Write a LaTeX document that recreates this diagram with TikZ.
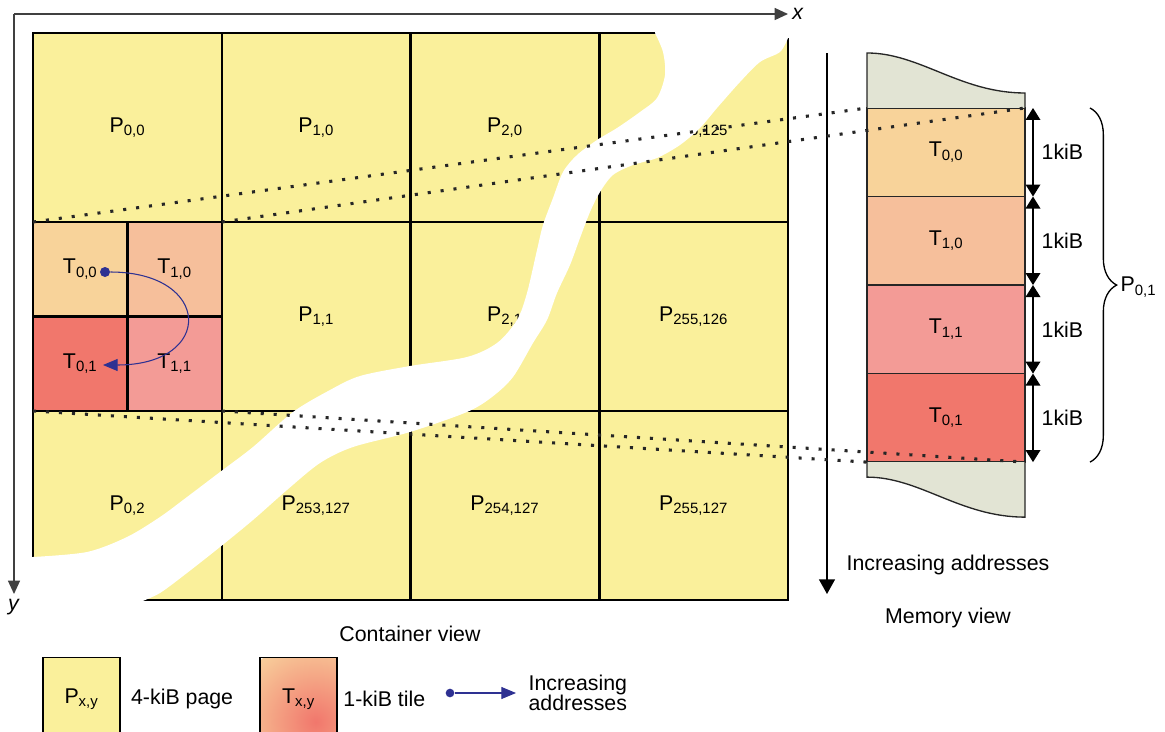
\documentclass[tikz,border=0pt]{standalone}
\usepackage{fontspec}
\setmainfont{Liberation Sans}
\usetikzlibrary{arrows.meta,positioning,calc,decorations.pathreplacing}
\definecolor{pagecol}{HTML}{FAF09B}
\definecolor{tAcol}{HTML}{F8D39A}
\definecolor{tBcol}{HTML}{F6BF9B}
\definecolor{tCcol}{HTML}{F39B96}
\definecolor{tDcol}{HTML}{F1776C}
\definecolor{capcol}{HTML}{E2E4D4}
\definecolor{addrcol}{HTML}{2E3192}

\begin{document}
\begin{tikzpicture}[
  x=0.75pt, y=-0.75pt,
  font=\fontsize{16}{19}\selectfont,
  page/.style = {draw, line width=1.9pt, fill=pagecol, inner sep=0pt, outer sep=0pt,
                 minimum width=141.56pt, minimum height=141.75pt},
  tile/.style = {page, minimum width=70.78pt, minimum height=70.87pt},
  mem/.style  = {draw=black!85, line width=1pt, inner sep=0pt, outer sep=0pt,
                 minimum width=118.5pt, minimum height=66.4pt},
  memcap/.style = {draw=black!85, line width=1pt, fill=capcol},
  key/.style  = {draw, line width=1.3pt, inner sep=0pt, minimum width=57.75pt,
                 minimum height=62.25pt},
  ax/.style   = {-{Triangle[length=10pt,width=9pt]}, line width=1pt, black!75},
  kib/.style  = {{Triangle[length=9pt,width=11pt]}-{Triangle[length=9pt,width=11pt]},
                 line width=1pt},
  dots/.style = {line width=2.3pt, dash pattern=on 2.3pt off 7.45pt, black!85},
  addr/.style = {-{Triangle[length=11pt,width=9pt]}, line width=0.8pt, addrcol},
  dot/.style  = {circle, fill=addrcol, inner sep=0pt, minimum size=7.5pt},
  lbl/.style  = {inner sep=1pt}]
\newcommand{\ix}[2]{#1\textsubscript{#2}}
\useasboundingbox (0,0) rectangle (1165,732);

% container view: pages
\node[page] (p00) at (127.4,127.5) {\ix{P}{0,0}};
\node[page, right=0pt of p00] (p10) {\ix{P}{1,0}};
\node[page, right=0pt of p10] (p20) {\ix{P}{2,0}};
\node[page, right=0pt of p20] (p30) {\ix{P}{255,125}};

\node[tile, fill=tAcol, below right=0pt and 0pt of p00.south west] (t00) {\ix{T}{0,0}};
\node[tile, fill=tBcol, right=0pt of t00] (t10) {\ix{T}{1,0}};
\node[tile, fill=tDcol, below=0pt of t00] (t01) {\ix{T}{0,1}};
\node[tile, fill=tCcol, right=0pt of t01] (t11) {\ix{T}{1,1}};
\node[page, below=0pt of p10] (p11) {\ix{P}{1,1}};
\node[page, below=0pt of p20] (p21) {\ix{P}{2,1}};
\node[page, below=0pt of p30] (p31) {\ix{P}{255,126}};

\node[page, below right=0pt and 0pt of t01.south west] (p02) {\ix{P}{0,2}};
\node[page, right=0pt of p02] (p12) {\ix{P}{253,127}};
\node[page, right=0pt of p12] (p22) {\ix{P}{254,127}};
\node[page, right=0pt of p22] (p32) {\ix{P}{255,127}};

% the torn strip
\fill[white] (655,28) -- (792,28) -- (792,37)
  -- plot[smooth, tension=0.5] coordinates {(788,38) (780,52) (760,62) (740,82)
     (717,108) (700,128) (680,145) (657,158) (633,165) (613,175) (600,192)
     (590,212) (580,238) (570,265) (557,293) (547,320) (533,343) (513,377)
     (492,397) (467,412) (410,432) (353,447) (320,463) (287,490) (253,520)
     (220,547) (187,573) (160,593) (140,602)}
  -- (140,606) -- (28,606) -- (28,557)
  -- plot[smooth, tension=0.5] coordinates {(33,557) (87,552) (127,537)
     (160,517) (187,497) (220,472) (253,447) (293,412) (330,390) (360,376)
     (410,366) (467,357) (497,343) (517,320) (527,293) (537,250) (543,225)
     (553,198) (563,172) (577,155) (597,140) (617,128) (640,112) (657,98)
     (665,75) (663,52) (655,33)}
  -- cycle;

% axes
\coordinate (org) at (14,14);
\coordinate (xend) at (788,14);
\coordinate (yend) at (14,594);
\draw[ax] (org) -- (xend);
\draw[ax] (org) -- (yend);
\node[lbl, right=2pt of xend] (xl) {\textit{x}};
\node[lbl, below=3pt of yend] (yl) {\textit{y}};

% address order inside the page
\node[dot] (c0) at (105,272) {};
\coordinate (c1) at (103,365);
\draw[addr] (c0) .. controls +(107,0) and +(112,0) .. (c1);

% memory view
\node[mem, fill=tAcol] (m00) at (946,152.25) {\ix{T}{0,0}};
\node[mem, fill=tBcol, below=0pt of m00] (m10) {\ix{T}{1,0}};
\node[mem, fill=tCcol, below=0pt of m10] (m11) {\ix{T}{1,1}};
\node[mem, fill=tDcol, below=0pt of m11] (m01) {\ix{T}{0,1}};
\draw[memcap] (m00.north west) -- ++(0,-55) .. controls +(53,0) and +(-65,0)
  .. ([yshift=11.25pt]m00.north east) -- (m00.north east);
\draw[memcap] (m01.south west) -- ++(0,15) .. controls +(53,0) and +(-65,0)
  .. ([yshift=-41.25pt]m01.south east) -- (m01.south east);

\draw[kib] ($(m00.north east)+(8,0)$) -- ($(m00.south east)+(8,0)$)
  node[lbl, midway, right=5pt] {1kiB};
\draw[kib] ($(m10.north east)+(8,0)$) -- ($(m10.south east)+(8,0)$)
  node[lbl, midway, right=5pt] {1kiB};
\draw[kib] ($(m11.north east)+(8,0)$) -- ($(m11.south east)+(8,0)$)
  node[lbl, midway, right=5pt] {1kiB};
\draw[kib] ($(m01.north east)+(8,0)$) -- ($(m01.south east)+(8,0)$)
  node[lbl, midway, right=5pt] {1kiB};

\draw[line width=1pt, decorate, decoration={brace, amplitude=20pt}]
  ($(m00.north east)+(65,0)$) -- ($(m01.south east)+(65,0)$);
\node[lbl, anchor=west] (pb) at (1119,287) {\ix{P}{0,1}};

\coordinate (ms) at (827,53);
\coordinate (me) at (827,594);
\draw[-{Triangle[length=11pt,width=12pt]}, line width=1pt] (ms) -- (me);
\node[lbl, anchor=west] (ia) at (845,565) {Increasing addresses};

% page P0,1 mapped onto memory
\draw[dots] (t00.north west) -- (m00.north west);
\draw[dots] (t10.north east) -- (m00.north east);
\draw[dots] (t01.south west) -- (m01.south west);
\draw[dots] (t11.south east) -- (m01.south east);

\node[lbl] (cv) at (410,634) {Container view};
\node[lbl] (mv) at (948,618) {Memory view};

% legend
\node[key, fill=pagecol] (lp) at (81.5,699) {\ix{P}{x,y}};
\node[lbl, right=6.5pt of lp] (lpt) {4-kiB page};
\node[key, path picture={\shade[inner color=tDcol, outer color=tAcol!70!tBcol]
  ([shift={(-16pt,14pt)}]path picture bounding box.south east) circle (62pt);}]
  (lt) at (298.5,699) {\ix{T}{x,y}};
\node[lbl, right=3pt of lt] (ltt) {1-kiB tile};
\node[dot, minimum size=6.5pt] (ld) at (450,693) {};
\coordinate (la) at (516,693);
\draw[addr] (ld) -- (la);
\node[lbl, anchor=west, align=left, font=\fontsize{16}{15.5}\selectfont] (lat)
  at (527,693) {Increasing\\addresses};
\end{tikzpicture}
\end{document}
